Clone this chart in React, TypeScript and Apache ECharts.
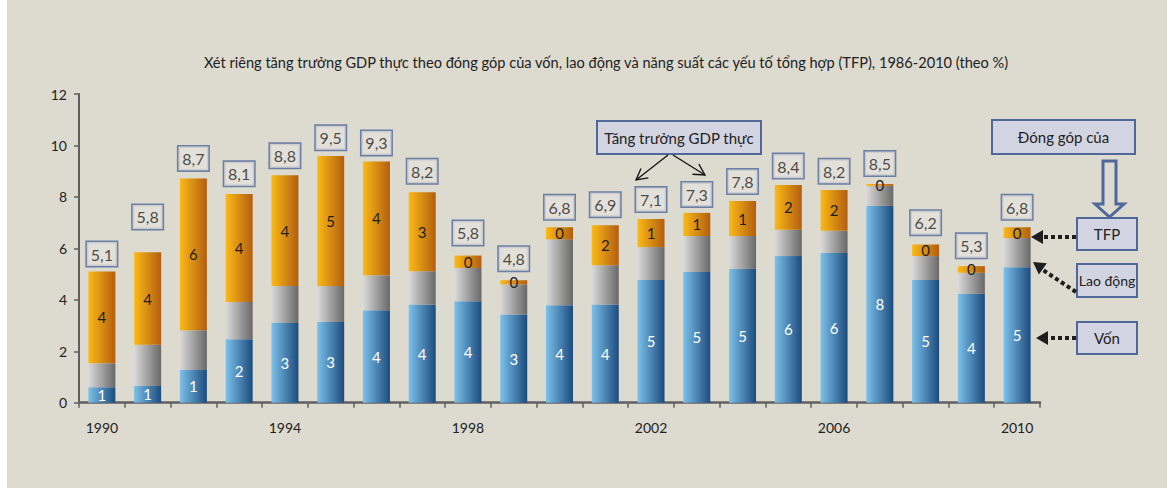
import React, { useEffect, useRef } from "react";
import * as echarts from "echarts";

const years = [
  "1990", "1991", "1992", "1993", "1994", "1995", "1996", "1997", "1998", "1999", "2000",
  "2001", "2002", "2003", "2004", "2005", "2006", "2007", "2008", "2009", "2010",
];
const capital = [0.6, 0.65, 1.27, 2.47, 3.1, 3.14, 3.59, 3.82, 3.94, 3.43, 3.79, 3.82, 4.77, 5.08, 5.2, 5.7, 5.82, 7.65, 4.77, 4.23, 5.27];
const labor = [0.93, 1.6, 1.55, 1.44, 1.44, 1.4, 1.36, 1.29, 1.3, 1.17, 2.56, 1.52, 1.28, 1.4, 1.28, 1.02, 0.86, 0.78, 0.93, 0.82, 1.13];
const tfp = [3.57, 3.6, 5.9, 4.2, 4.3, 5.05, 4.43, 3.07, 0.48, 0.16, 0.47, 1.56, 1.09, 0.9, 1.36, 1.74, 1.59, 0.07, 0.45, 0.26, 0.42];
const totals = [5.1, 5.8, 8.7, 8.1, 8.8, 9.5, 9.3, 8.2, 5.8, 4.8, 6.8, 6.9, 7.1, 7.3, 7.8, 8.4, 8.2, 8.5, 6.2, 5.3, 6.8];
const yTicks = [0, 2, 4, 6, 8, 10, 12];

const titleText =
  "Xét riêng tăng trưởng GDP thực theo đóng góp của vốn, lao động và năng suất các yếu tố tổng hợp (TFP), 1986-2010 (theo %)";
const FONT = "Lato, 'Open Sans', sans-serif";

export default function App() {
  const ref = useRef<HTMLDivElement>(null);
  useEffect(() => {
    if (!ref.current) return;
    const chart = echarts.init(ref.current, null, { renderer: "svg" });
    const grad = (a: string, b: string) =>
      new echarts.graphic.LinearGradient(0, 0, 1, 0, [
        { offset: 0, color: a },
        { offset: 1, color: b },
      ]);
    const distOverride: Record<string, number> = { "1990": 5, "1991": 24 };
    const boxStroke = "#4f6898";
    const boxFill = "#d3d4e1";
    const box = (x: number, y: number, w: number, h: number, text: string, fs: number) => [
      { type: "rect", shape: { x, y, width: w, height: h }, style: { fill: boxFill, stroke: boxStroke, lineWidth: 2 }, z: 10 },
      {
        type: "text",
        x: x + w / 2,
        y: y + h / 2,
        style: { text, fill: "#222", font: `${fs}px ${FONT}`, textAlign: "center", textVerticalAlign: "middle" },
        z: 11,
      },
    ];
    const dotted = (x1: number, y1: number, x2: number, y2: number) => ({
      type: "line",
      shape: { x1, y1, x2, y2 },
      style: { stroke: "#1e1e1e", lineWidth: 4, lineDash: [4, 3] },
      z: 10,
    });
    const head = (tipX: number, tipY: number, angle: number) => {
      const len = 12, half = 7;
      const bx = tipX - Math.cos(angle) * len, by = tipY - Math.sin(angle) * len;
      const px = -Math.sin(angle) * half, py = Math.cos(angle) * half;
      return {
        type: "polygon",
        shape: { points: [[tipX, tipY], [bx + px, by + py], [bx - px, by - py]] },
        style: { fill: "#1e1e1e" },
        z: 10,
      };
    };
    const openHead = (tipX: number, tipY: number, angle: number) => {
      const len = 11, half = 6;
      const bx = tipX - Math.cos(angle) * len, by = tipY - Math.sin(angle) * len;
      const px = -Math.sin(angle) * half, py = Math.cos(angle) * half;
      return {
        type: "polyline",
        shape: { points: [[bx + px, by + py], [tipX, tipY], [bx - px, by - py]] },
        style: { stroke: "#111", lineWidth: 1.3, fill: null },
        z: 10,
      };
    };
    const a1 = Math.atan2(180 - 155, 636 - 668);
    const a2 = Math.atan2(175 - 155, 705 - 673);
    const aLab = Math.atan2(262 - 292, 1033 - 1076);

    chart.setOption({
      animation: false,
      textStyle: { fontFamily: FONT },
      grid: { left: 79, top: 94, width: 961, height: 308.7, containLabel: false },
      xAxis: {
        type: "category",
        data: years,
        axisLine: { lineStyle: { color: "#5f5f5f", width: 2.5 } },
        axisTick: { show: true, interval: 0, length: 5, lineStyle: { color: "#5f5f5f", width: 1.5 } },
        axisLabel: { interval: 3, color: "#222", fontSize: 14, margin: 18, fontFamily: FONT },
      },
      yAxis: {
        type: "value",
        min: 0,
        max: 12,
        interval: 2,
        axisLine: { show: true, lineStyle: { color: "#5f5f5f", width: 2 } },
        axisTick: { show: true, length: 5, lineStyle: { color: "#5f5f5f", width: 1.5 } },
        axisLabel: {
          color: "#222",
          fontSize: 14,
          margin: 12,
          fontFamily: FONT,
          formatter: (v: number) => (yTicks.includes(v) ? String(v) : ""),
        },
        splitLine: { show: false },
      },
      series: [
        {
          name: "Vốn",
          type: "bar",
          stack: "g",
          barWidth: 27,
          data: capital,
          itemStyle: { color: grad("#7cc1ea", "#1c4b7e") },
          label: {
            show: true,
            position: "inside",
            color: "#fff",
            fontSize: 15,
            fontFamily: FONT,
            formatter: (p: any) => String(Math.round(p.value)),
          },
        },
        {
          name: "Lao động",
          type: "bar",
          stack: "g",
          barWidth: 27,
          data: labor,
          itemStyle: { color: grad("#dadada", "#686868") },
        },
        {
          name: "TFP",
          type: "bar",
          stack: "g",
          barWidth: 27,
          data: tfp,
          itemStyle: { color: grad("#fbba17", "#b35e10") },
          label: {
            show: true,
            position: "inside",
            color: "#1e1e1e",
            fontSize: 15,
            fontFamily: FONT,
            formatter: (p: any) => String(Math.round(p.value)),
          },
        },
        {
          name: "Tổng",
          type: "scatter",
          symbolSize: 1,
          itemStyle: { color: "rgba(0,0,0,0)" },
          data: totals.map((v, i) => ({
            value: v,
            label: distOverride[years[i]] !== undefined ? { distance: distOverride[years[i]] } : undefined,
          })),
          label: {
            show: true,
            position: "top",
            distance: 8,
            formatter: (p: any) => String(p.value).replace(".", ","),
            color: "#222",
            fontSize: 16,
            fontFamily: FONT,
            backgroundColor: "#e3e1da",
            borderColor: boxStroke,
            borderWidth: 1.5,
            width: 30,
            height: 24,
            lineHeight: 24,
            align: "center",
            padding: 0,
          },
          z: 5,
        },
      ],
      graphic: [
        {
          type: "text",
          x: 606,
          y: 62,
          style: { text: titleText, fill: "#222", font: `14.6px ${FONT}`, textAlign: "center", textVerticalAlign: "middle" },
        },
        ...box(597, 121, 164, 33, "Tăng trưởng GDP thực", 15),
        { type: "line", shape: { x1: 668, y1: 155, x2: 636, y2: 180 }, style: { stroke: "#111", lineWidth: 1.3 }, z: 10 },
        openHead(636, 180, a1),
        { type: "line", shape: { x1: 673, y1: 155, x2: 705, y2: 175 }, style: { stroke: "#111", lineWidth: 1.3 }, z: 10 },
        openHead(705, 175, a2),
        ...box(992, 120, 143, 34, "Đóng góp của", 15),
        {
          type: "polygon",
          shape: {
            points: [[1103, 161], [1116, 161], [1116, 204], [1124, 204], [1109.5, 217], [1095, 204], [1103, 204]],
          },
          style: { fill: "#dddad0", stroke: boxStroke, lineWidth: 3 },
          z: 9,
        },
        ...box(1077, 218, 60, 32, "TFP", 15),
        ...box(1077, 264, 60, 33, "Lao động", 14),
        ...box(1077, 322, 60, 32, "Vốn", 15),
        dotted(1076, 237, 1043, 237),
        head(1031, 237, Math.PI),
        dotted(1076, 292, 1043, 270),
        head(1033, 262, aLab),
        dotted(1076, 338, 1047, 338),
        head(1036, 338, Math.PI),
      ],
    });
    return () => chart.dispose();
  }, []);
  return (
    <div
      style={{
        position: "absolute",
        left: 0,
        top: 0,
        width: 1167,
        height: 488,
        background: "linear-gradient(to right, #ffffff 7px, #dddad0 7px)",
      }}
    >
      <div ref={ref} style={{ width: 1167, height: 488 }} />
    </div>
  );
}
